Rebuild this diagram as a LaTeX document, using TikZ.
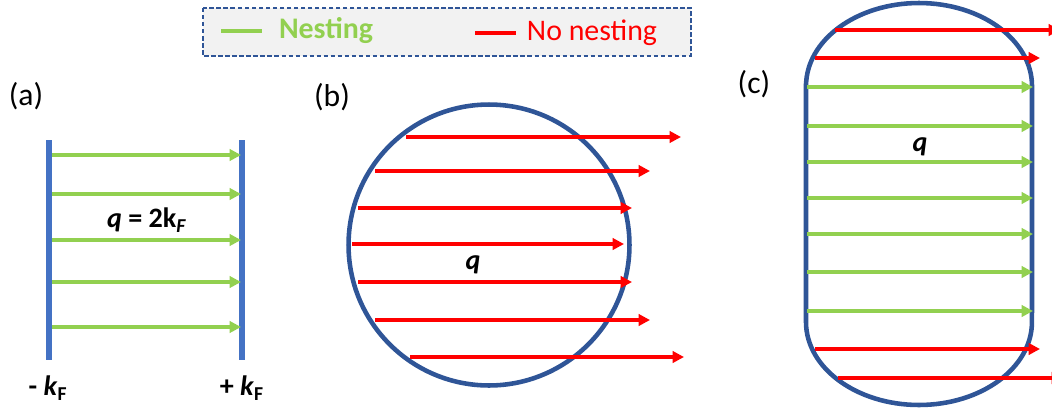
\documentclass[tikz,border=0pt]{standalone}
\usepackage{fontspec}
\setmainfont{Carlito}
\usetikzlibrary{arrows.meta}

\definecolor{kblue}{HTML}{4472C4}
\definecolor{edgeblue}{HTML}{2F5597}
\definecolor{nestgreen}{HTML}{92D050}
\definecolor{nonred}{HTML}{FF0000}
\definecolor{boxgray}{HTML}{F2F2F2}

\tikzset{
  nest/.style={nestgreen, line width=2pt, -{Triangle[length=6.5pt,width=6.5pt]}},
  nonest/.style={nonred, line width=2pt, -{Triangle[length=6.5pt,width=6.5pt]}},
  panel/.style={font=\fontsize{18}{20}\selectfont},
  klabel/.style={font=\bfseries\fontsize{16}{18}\selectfont},
}

\begin{document}
\begin{tikzpicture}[x=0.02cm, y=-0.02cm]
    \useasboundingbox (0,0) rectangle (1052,413);
    \clip (0,0) rectangle (1052,413);

    % legend
    \draw[edgeblue, line width=1.3pt, dash pattern=on 2.5pt off 1.5pt, fill=boxgray] (203,8) rectangle (691,56);
    \draw[nestgreen, line width=2pt] (221,31) -- (262,31);
    \node[nestgreen, font=\bfseries\fontsize{17}{19}\selectfont] (nesting) at (326,31) {Nesting};
    \draw[nonred, line width=2pt] (475,33) -- (516,33);
    \node[nonred, font=\fontsize{17}{19}\selectfont] (nonesting) at (592,33) {No nesting};

    % (a)
    \node[panel] (la) at (26,96) {(a)};
    \draw[kblue, line width=3pt] (49,140) -- (49,360);
    \draw[kblue, line width=3pt] (242,140) -- (242,360);
    \foreach \y in {155,194,240,282,327}
        \draw[nest] (52,\y) -- (241,\y);
    \node[klabel] (qa) at (147,220) {\textit{q} = 2k\textsubscript{\textit{F}}};
    \node[klabel] (kminus) at (48,388) {- \textit{k}\textsubscript{F}};
    \node[klabel] (kplus) at (242,388) {+ \textit{k}\textsubscript{F}};

    % (b)
    \node[panel] (lb) at (332,97) {(b)};
    \draw[edgeblue, line width=2.6pt] (489,245) circle[radius=2.81cm];
    \foreach \y/\a/\b in {137/406/681, 171/375/650, 208/358/632, 244/352/624,
                          282/358/632, 320/375/650, 357/410/684}
        \draw[nonest] (\a,\y) -- (\b,\y);
    \node[klabel] (qb) at (473,265) {\textit{q}};

    % (c)
    \node[panel] (lc) at (754,84) {(c)};
    \draw[edgeblue, line width=2.6pt] (806,86) -- (806,322)
        arc[start angle=180, end angle=360, x radius=2.26cm, y radius=1.66cm]
        -- (1032,86)
        arc[start angle=0, end angle=180, x radius=2.26cm, y radius=1.66cm] -- cycle;
    \foreach \y/\a/\b in {30/835/1060, 58/815/1040, 349/815/1040, 378/838/1063}
        \draw[nonest] (\a,\y) -- (\b,\y);
    \foreach \y in {87,126,162,198,234,272,311}
        \draw[nest] (807,\y) -- (1033,\y);
    \node[klabel] (qc) at (920,147) {\textit{q}};
\end{tikzpicture}
\end{document}
